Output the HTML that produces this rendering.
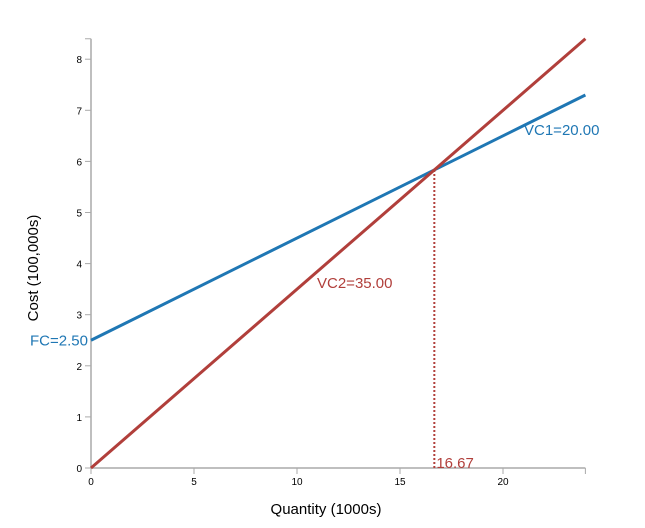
<!DOCTYPE html>
<html><head><meta charset="utf-8"><style>
body{margin:0;background:#fff;}
svg{font-family:"Liberation Sans",Arial,sans-serif;}
</style></head><body>
<svg width="645" height="523">
<g id="axes"></g><g id="marks"></g>
</svg>
<script>
const xTicks=[0,5,10,15,20];
const yTicks=[0,1,2,3,4,5,6,7,8];
const fixedCost=[2.5];
const vc1=[20.00];
const vc2=[35.00];
const xMax=[24];
const x0=91,xs=20.6,y0=468,ys=51.1;
const X=v=>x0+v*xs, Y=v=>y0-v*ys;
const NS="http://www.w3.org/2000/svg";
const ax=document.getElementById('axes'),mk=document.getElementById('marks');
function el(p,t,a,txt){const e=document.createElementNS(NS,t);for(const k in a)e.setAttribute(k,a[k]);if(txt!==undefined)e.textContent=txt;p.appendChild(e);return e;}
const xm=xMax[0];
let e=el(ax,'line',{x1:X(0),x2:X(xm),y1:y0,y2:y0,stroke:'#aaa','stroke-width':1.5});


e=el(ax,'line',{x1:x0,x2:x0,y1:y0,y2:Y(8.4),stroke:'#aaa','stroke-width':1.5});


el(ax,'line',{x1:X(xm),x2:X(xm),y1:y0,y2:y0+6,stroke:'#aaa'});
el(ax,'line',{x1:x0-6,x2:x0,y1:Y(8.4),y2:Y(8.4),stroke:'#aaa'});
xTicks.forEach(t=>{el(ax,'line',{x1:X(t),x2:X(t),y1:y0,y2:y0+6,stroke:'#aaa'});
 e=el(ax,'text',{x:X(t),y:y0+17,'text-anchor':'middle','font-size':10,fill:'#000'},t);
 
 });
yTicks.forEach(t=>{el(ax,'line',{x1:x0-6,x2:x0,y1:Y(t),y2:Y(t),stroke:'#aaa'});
 e=el(ax,'text',{x:x0-9,y:Y(t)+4,'text-anchor':'end','font-size':10,fill:'#000'},t);
 
 });
e=el(ax,'text',{x:326,y:514,'text-anchor':'middle','font-size':15},'Quantity (1000s)');


e=el(ax,'text',{x:0,y:0,'text-anchor':'middle','font-size':15,transform:'translate(38,268) rotate(-90)'},'Cost (100,000s)');


const fc=fixedCost[0],a=vc1[0]/100,b=vc2[0]/100;
const qi=fc/(b-a);
e=el(mk,'line',{x1:X(qi),x2:X(qi),y1:y0,y2:Y(b*qi),stroke:'#b13f3b','stroke-width':2,'stroke-dasharray':'2,2'});


e=el(mk,'line',{x1:X(0),y1:Y(fc),x2:X(xm),y2:Y(fc+a*xm),stroke:'#1f77b4','stroke-width':3});


e=el(mk,'line',{x1:X(0),y1:Y(0),x2:X(xm),y2:Y(b*xm),stroke:'#b13f3b','stroke-width':3});


e=el(mk,'text',{x:524,y:135,'font-size':15,fill:'#1f77b4'},'VC1='+vc1[0].toFixed(2));


e=el(mk,'text',{x:317,y:288,'font-size':15,fill:'#b13f3b'},'VC2='+vc2[0].toFixed(2));


e=el(mk,'text',{x:30,y:Y(fc)+5,'font-size':15,fill:'#1f77b4'},'FC='+fc.toFixed(2));


e=el(mk,'text',{x:X(qi)+2,y:y0,'font-size':15,fill:'#b13f3b'},(qi).toFixed(2));


</script>
</body></html>
